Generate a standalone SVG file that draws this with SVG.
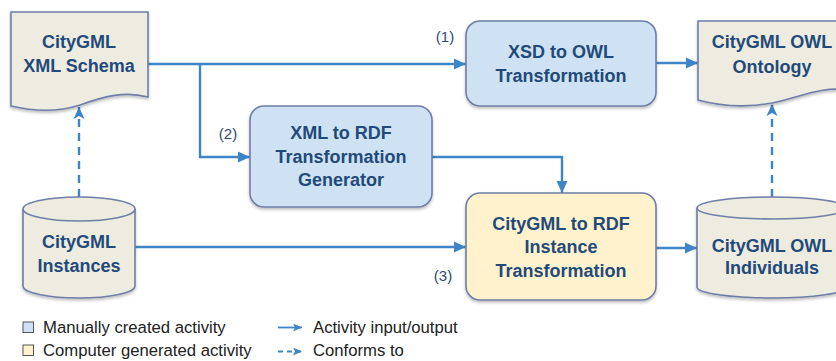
<svg xmlns="http://www.w3.org/2000/svg" width="836" height="361" viewBox="0 0 836 361">
<style>
.doc{fill:#eeebe1;stroke:#6f7ea6;stroke-width:1.6}
.manual{fill:#cfe2f3;stroke:#6f7ea6;stroke-width:1.6}
.auto{fill:#fff2cc;stroke:#6f7ea6;stroke-width:1.6}
.lbl{font-family:"Liberation Sans",Arial,sans-serif;font-weight:bold;font-size:18px;fill:#1f4a7a;text-anchor:middle}
.num{font-family:"Liberation Sans",Arial,sans-serif;font-size:15px;fill:#2d4a72;text-anchor:middle}
.leg{font-family:"Liberation Sans",Arial,sans-serif;font-size:16.7px;fill:#222}
.flow{fill:none;stroke:#3d85c6;stroke-width:2.4}
.dash{fill:none;stroke:#3d85c6;stroke-width:2.4;stroke-dasharray:8 6}
</style>
<defs>
<filter id="sh" x="-10%" y="-10%" width="120%" height="130%">
<feDropShadow dx="0" dy="2" stdDeviation="1.5" flood-color="#000" flood-opacity="0.25"/>
</filter>
<marker id="ah" markerUnits="userSpaceOnUse" markerWidth="12" markerHeight="12" viewBox="0 0 12 12" refX="12" refY="6" orient="auto">
<path d="M0,0.5 L12,6 L0,11.5 Z" fill="#3d85c6"/>
</marker>
<marker id="ahd" markerUnits="userSpaceOnUse" markerWidth="12" markerHeight="12" viewBox="0 0 12 12" refX="12" refY="6" orient="auto">
<path d="M0,0.5 L12,6 L0,11.5 L3,6 Z" fill="#3d85c6"/>
</marker>
<marker id="ahL" markerUnits="userSpaceOnUse" markerWidth="9" markerHeight="8" viewBox="0 0 9 8" refX="9" refY="4" orient="auto">
<path d="M0,0 L9,4 L0,8 L2,4 Z" fill="#3d85c6"/>
</marker>
</defs>

<g id="connectors">
<path class="flow" d="M148,64 H466" marker-end="url(#ah)"/>
<path class="flow" d="M200,64 V157 H250" marker-end="url(#ah)"/>
<path class="flow" d="M656,63 H698" marker-end="url(#ah)"/>
<path class="flow" d="M432,157 H562 V193" marker-end="url(#ah)"/>
<path class="flow" d="M135,247 H466" marker-end="url(#ah)"/>
<path class="flow" d="M656,248 H697" marker-end="url(#ah)"/>
<path class="dash" d="M79,197 V107" marker-end="url(#ahd)"/>
<path class="dash" d="M772,197 V104" marker-end="url(#ahd)"/>
</g>

<g id="schema">
<path class="doc" filter="url(#sh)" d="M11,12 H148 V97 C125,91 105,96 80,105 C55,113 32,111 11,106 Z"/>
<text class="lbl" x="79" y="48">CityGML</text>
<text class="lbl" x="79" y="72">XML Schema</text>
</g>

<g id="xsd2owl">
<rect class="manual" filter="url(#sh)" x="466" y="21" width="190" height="85" rx="14"/>
<text class="lbl" x="561" y="58">XSD to OWL</text>
<text class="lbl" x="561" y="82">Transformation</text>
</g>

<g id="ontology">
<path class="doc" filter="url(#sh)" d="M698,21 H848 V90 C822,86 800,97 772,103 C745,108 720,106 698,100 Z"/>
<text class="lbl" x="772" y="48">CityGML OWL</text>
<text class="lbl" x="772" y="73">Ontology</text>
</g>

<g id="generator">
<rect class="manual" filter="url(#sh)" x="250" y="106" width="182" height="101" rx="14"/>
<text class="lbl" x="341" y="139">XML to RDF</text>
<text class="lbl" x="341" y="163">Transformation</text>
<text class="lbl" x="341" y="186">Generator</text>
</g>

<g id="instances">
<path class="doc" filter="url(#sh)" d="M23,209 A56,12 0 0 1 135,209 V286 A56,12 0 0 1 23,286 Z"/>
<path class="doc" d="M23,209 A56,12 0 0 0 135,209" fill="none"/>
<text class="lbl" x="79" y="248">CityGML</text>
<text class="lbl" x="79" y="272">Instances</text>
</g>

<g id="rdf">
<rect class="auto" filter="url(#sh)" x="466" y="193" width="190" height="107" rx="14"/>
<text class="lbl" x="561" y="230">CityGML to RDF</text>
<text class="lbl" x="561" y="253">Instance</text>
<text class="lbl" x="561" y="277">Transformation</text>
</g>

<g id="individuals">
<path class="doc" filter="url(#sh)" d="M697,208 A75,11 0 0 1 847,208 V287 A75,11 0 0 1 697,287 Z"/>
<path class="doc" d="M697,208 A75,11 0 0 0 847,208" fill="none"/>
<text class="lbl" x="772" y="252">CityGML OWL</text>
<text class="lbl" x="772" y="274">Individuals</text>
</g>

<g id="labels">
<text class="num" x="445" y="42">(1)</text>
<text class="num" x="228" y="139">(2)</text>
<text class="num" x="443" y="281">(3)</text>
</g>

<g id="legend">
<rect x="23" y="322" width="10.5" height="10.5" fill="#cfe2f3" stroke="#555" stroke-width="1"/>
<text class="leg" x="43" y="333">Manually created activity</text>
<rect x="23" y="345" width="10.5" height="10.5" fill="#fff2cc" stroke="#555" stroke-width="1"/>
<text class="leg" x="43" y="356">Computer generated activity</text>
<path d="M278,327.5 H302" fill="none" stroke="#3d85c6" stroke-width="1.8" marker-end="url(#ahL)"/>
<path d="M278,351.5 H302" fill="none" stroke="#3d85c6" stroke-width="1.8" stroke-dasharray="5 4" marker-end="url(#ahL)"/>
<text class="leg" x="313" y="333">Activity input/output</text>
<text class="leg" x="313" y="356">Conforms to</text>
</g>
</svg>
